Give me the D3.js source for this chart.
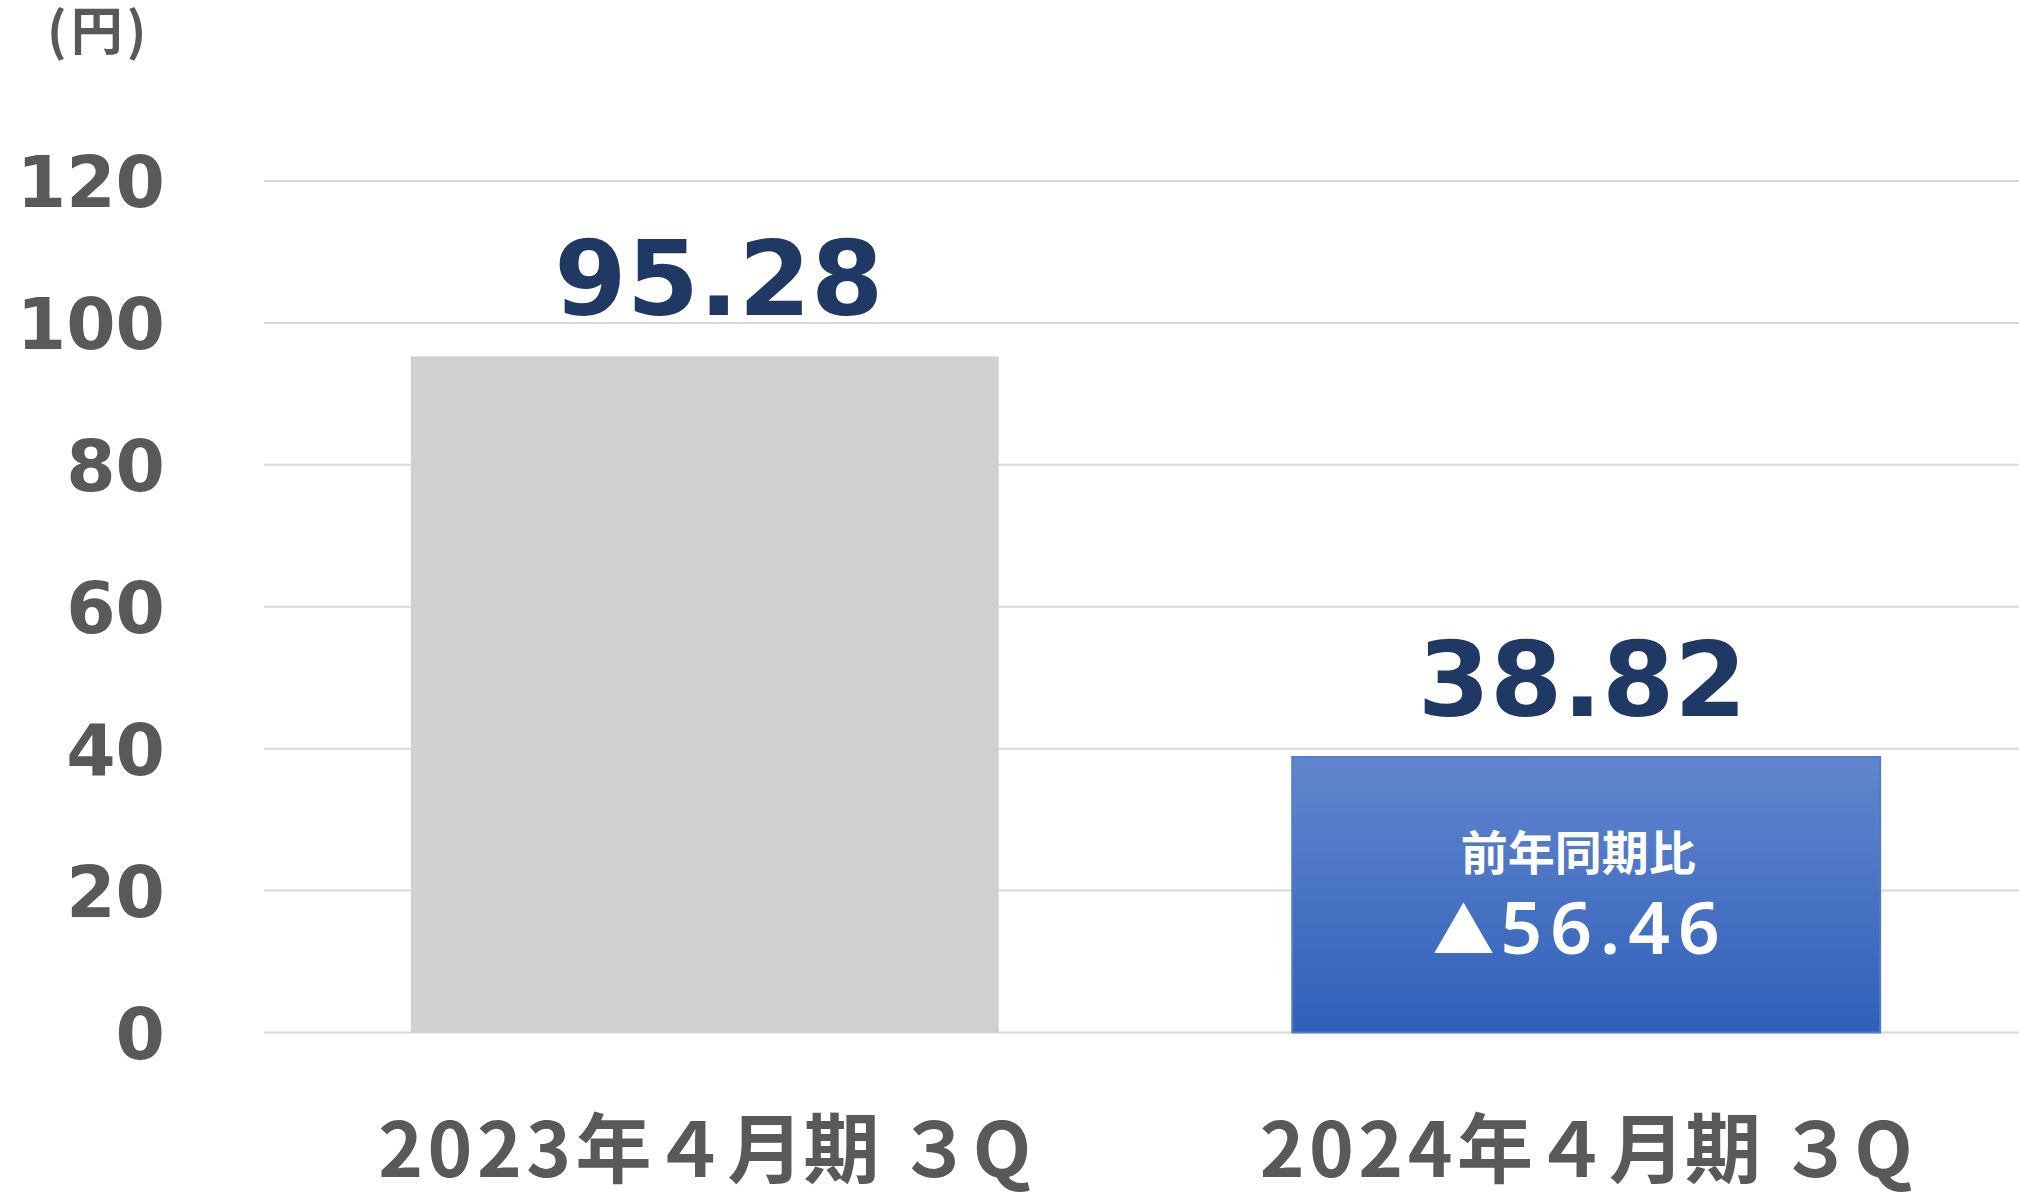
<!DOCTYPE html>
<html>
<head>
<meta charset="utf-8">
<script src="https://cdn.jsdelivr.net/npm/d3@7"></script>
<style>
  body { margin: 0; background: #fff; }
  svg { display: block; }
</style>
</head>
<body>
<div id="container"></div>
<script>
const WIDTH = 2019;
const HEIGHT = 1193;

const years = ['2023', '2024'];
const categorySuffix = '年４月期 ３Q';
const categories = years.map(y => y + categorySuffix);
const values = [95.28, 38.82];
const valueLabels = ['95.28', '38.82'];
const yTicks = [0, 20, 40, 60, 80, 100, 120];
const unitLabel = '(円)';
const diffTitle = '前年同期比';
const diffValue = '56.46';

const GRAY = '#595959';
const NAVY = '#203864';
const LABEL_NUDGE = [14, -4];

const svg = d3.select('#container')
              .append('svg')
                .attr('width', WIDTH)
                .attr('height', HEIGHT);

const defs = svg.append('defs');
const grad = defs.append('linearGradient')
                   .attr('id', 'blueGrad')
                   .attr('x1', 0).attr('y1', 0)
                   .attr('x2', 0).attr('y2', 1);
grad.append('stop').attr('offset', '0%').attr('stop-color', '#6286CE');
grad.append('stop').attr('offset', '100%').attr('stop-color', '#2F60B9');

const xscale = d3.scaleBand()
                 .domain(categories)
                 .range([264, 2027])
                 .paddingInner(0.333)
                 .paddingOuter(0.1666);

const yscale = d3.scaleLinear()
                 .domain([0, 120])
                 .range([1032.5, 181]);

// gridlines
svg.append('g')
   .selectAll('line')
   .data(yTicks)
   .enter()
   .append('line')
     .attr('x1', 264)
     .attr('x2', WIDTH)
     .attr('y1', d => yscale(d))
     .attr('y2', d => yscale(d))
     .attr('stroke', '#D9D9D9')
     .attr('stroke-width', 2);

// y axis labels
const axisLeft = d3.axisLeft(yscale).tickValues(yTicks).tickSize(0).tickPadding(0);
const yAxis = svg.append('g')
                 .attr('transform', 'translate(165, 0)')
                 .call(axisLeft);
yAxis.select('.domain').remove();
yAxis.selectAll('text')
     .attr('fill', GRAY)
     .attr('dy', '0.36em')
     .style('font-family', '"DejaVu Sans", Verdana, sans-serif')
     .style('font-weight', 'bold')
     .style('font-size', '71px');

// unit
svg.append('text')
   .attr('x', 47)
   .attr('y', 50)
   .attr('fill', GRAY)
   .style('font-family', '"Noto Sans CJK JP", sans-serif')
   .style('font-weight', 'bold')
   .style('font-size', '52px')
   .style('letter-spacing', '4px')
   .text(unitLabel);

// bars
svg.append('g')
   .selectAll('rect')
   .data(values)
   .enter()
   .append('rect')
     .attr('x', (d, i) => xscale(categories[i]))
     .attr('y', d => yscale(d))
     .attr('width', xscale.bandwidth())
     .attr('height', d => yscale(0) - yscale(d))
     .attr('fill', (d, i) => i === 0 ? '#D0D0D0' : 'url(#blueGrad)')
     .attr('stroke', (d, i) => i === 0 ? 'none' : '#4F7BCB')
     .attr('stroke-width', 2);

// value labels
svg.append('g')
   .selectAll('text')
   .data(values)
   .enter()
   .append('text')
     .attr('x', (d, i) => xscale(categories[i]) + xscale.bandwidth() / 2 + LABEL_NUDGE[i])
     .attr('y', d => yscale(d) - 41)
     .attr('text-anchor', 'middle')
     .attr('fill', NAVY)
     .style('font-family', '"DejaVu Sans", Verdana, sans-serif')
     .style('font-weight', 'bold')
     .style('font-size', '104px')
     .text((d, i) => valueLabels[i]);

// year-over-year box text
const cx2 = xscale(categories[1]) + xscale.bandwidth() / 2;
svg.append('text')
   .attr('x', cx2 - 8)
   .attr('y', 870)
   .attr('text-anchor', 'middle')
   .attr('fill', '#fff')
   .style('font-family', '"Noto Sans CJK JP", sans-serif')
   .style('font-weight', 'bold')
   .style('font-size', '47px')
   .text(diffTitle);

const diff = svg.append('text')
   .attr('x', cx2 - 6)
   .attr('y', 954)
   .attr('text-anchor', 'middle')
   .attr('fill', '#fff')
   .style('font-family', '"Noto Sans", sans-serif')
   .style('font-weight', 600)
   .style('font-size', '73px');
diff.append('tspan')
    .style('font-family', '"Noto Sans CJK JP", sans-serif')
    .style('font-size', '62px')
    .style('letter-spacing', '6px')
    .text('▲');
diff.append('tspan')
    .style('letter-spacing', '8px')
    .text(diffValue);

// category labels
const catText = svg.append('g')
   .selectAll('text')
   .data(categories)
   .enter()
   .append('text')
     .attr('x', d => xscale(d) + xscale.bandwidth() / 2)
     .attr('y', 1177)
     .attr('text-anchor', 'middle')
     .attr('fill', GRAY)
     .style('font-family', '"Noto Sans CJK JP", sans-serif')
     .style('font-weight', 'bold')
     .style('font-size', '76px');
catText.append('tspan')
       .style('letter-spacing', '4.5px')
       .text((d, i) => years[i]);
catText.append('tspan')
       .text(categorySuffix);
</script>
</body>
</html>
